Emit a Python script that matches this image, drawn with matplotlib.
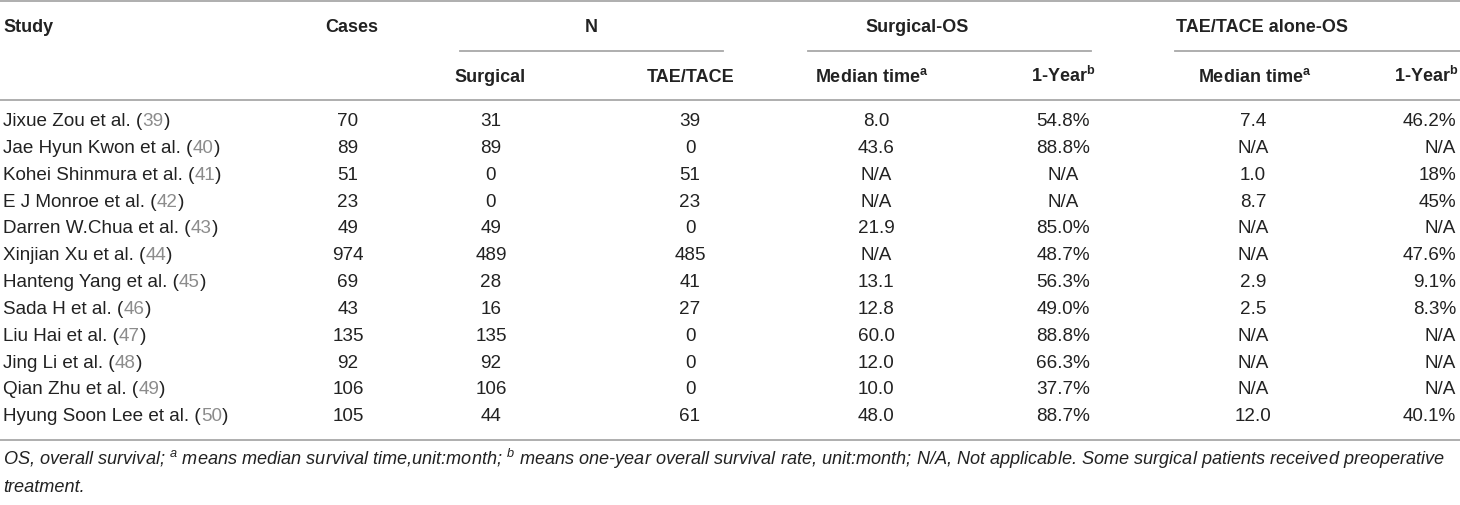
import matplotlib.pyplot as plt

studies = ['Jixue Zou et al.', 'Jae Hyun Kwon et al.', 'Kohei Shinmura et al.', 'E J Monroe et al.',
           'Darren W.Chua et al.', 'Xinjian Xu et al.', 'Hanteng Yang et al.', 'Sada H et al.',
           'Liu Hai et al.', 'Jing Li et al.', 'Qian Zhu et al.', 'Hyung Soon Lee et al.']
refs = ['39', '40', '41', '42', '43', '44', '45', '46', '47', '48', '49', '50']
cases = ['70', '89', '51', '23', '49', '974', '69', '43', '135', '92', '106', '105']
n_surgical = ['31', '89', '0', '0', '49', '489', '28', '16', '135', '92', '106', '44']
n_tace = ['39', '0', '51', '23', '0', '485', '41', '27', '0', '0', '0', '61']
surg_median = ['8.0', '43.6', 'N/A', 'N/A', '21.9', 'N/A', '13.1', '12.8', '60.0', '12.0', '10.0', '48.0']
surg_1yr = ['54.8%', '88.8%', 'N/A', 'N/A', '85.0%', '48.7%', '56.3%', '49.0%', '88.8%', '66.3%', '37.7%', '88.7%']
tace_median = ['7.4', 'N/A', '1.0', '8.7', 'N/A', 'N/A', '2.9', '2.5', 'N/A', 'N/A', 'N/A', '12.0']
tace_1yr = ['46.2%', 'N/A', '18%', '45%', 'N/A', '47.6%', '9.1%', '8.3%', 'N/A', 'N/A', 'N/A', '40.1%']

footnote = ['OS, overall survival; $^{a}$ means median survival time,unit:month; $^{b}$ means one-year overall survival rate, unit:month; N/A, Not applicable. Some surgical patients received preoperative',
            'treatment.']

family = 'Liberation Sans'
plt.rcParams['font.family'] = [family, 'DejaVu Sans']
plt.rcParams['mathtext.fontset'] = 'custom'
plt.rcParams['mathtext.rm'] = family
plt.rcParams['mathtext.it'] = family + ':italic'
plt.rcParams['mathtext.bf'] = family + ':bold'

fs = 13.6
hfs = 13.0
ffs = 13.1
line_col = '#a8a8a8'
txt_col = '#222222'

fig = plt.figure(figsize=(14.6, 5.05), dpi=100)
ax = fig.add_axes([0, 0, 1, 1])
ax.set_xlim(0, 1460)
ax.set_ylim(505, 0)
ax.axis('off')

# horizontal rules
ax.plot([0, 1460], [1, 1], color=line_col, lw=1.3)
ax.plot([460, 723], [50.5, 50.5], color=line_col, lw=1.3)
ax.plot([808, 1091], [50.5, 50.5], color=line_col, lw=1.3)
ax.plot([1175, 1460], [50.5, 50.5], color=line_col, lw=1.3)
ax.plot([0, 1460], [100, 100], color=line_col, lw=1.3)
ax.plot([0, 1460], [440, 440], color=line_col, lw=1.3)

# headers
hy1, hy2 = 32.5, 81.5
hkw = dict(fontsize=hfs, weight='bold', va='baseline', ha='center', color=txt_col)
ax.text(3, hy1, 'Study', **dict(hkw, ha='left'))
ax.text(352, hy1, 'Cases', **hkw)
ax.text(591, hy1, 'N', **hkw)
ax.text(917, hy1, 'Surgical-OS', **hkw)
ax.text(1262, hy1, 'TAE/TACE alone-OS', **hkw)
ax.text(490, hy2, 'Surgical', **hkw)
ax.text(691, hy2, 'TAE/TACE', **hkw)
ax.text(872, hy2, r'Median time$^{\mathbf{a}}$', **hkw)
ax.text(1063, hy2, r'1-Year$^{\mathbf{b}}$', **hkw)
ax.text(1255, hy2, r'Median time$^{\mathbf{a}}$', **hkw)
ax.text(1458, hy2, r'1-Year$^{\mathbf{b}}$', **dict(hkw, ha='right'))

# body
col_x = [348, 491, 690, 876, 1063, 1253]
cols = [cases, n_surgical, n_tace, surg_median, surg_1yr, tace_median]
y0, dy = 126, 26.85
for i, name in enumerate(studies):
    y = y0 + i * dy
    t1 = ax.text(3, y, name + ' (', fontsize=fs, va='baseline', color=txt_col)
    t2 = ax.annotate(refs[i], xy=(1, y), xycoords=(t1, 'data'), fontsize=fs,
                     va='baseline', color='#8c8c8c')
    ax.annotate(')', xy=(1, y), xycoords=(t2, 'data'), fontsize=fs, va='baseline', color=txt_col)
    for x, col in zip(col_x, cols):
        ax.text(x, y, col[i], fontsize=fs, va='baseline', ha='center', color=txt_col)
    ax.text(1456, y, tace_1yr[i], fontsize=fs, va='baseline', ha='right', color=txt_col)

ax.text(3, 465, footnote[0], fontsize=ffs, style='italic', va='baseline', color=txt_col)
ax.text(3, 492, footnote[1], fontsize=ffs, style='italic', va='baseline', color=txt_col)

fig.savefig('out.png', dpi=100)
